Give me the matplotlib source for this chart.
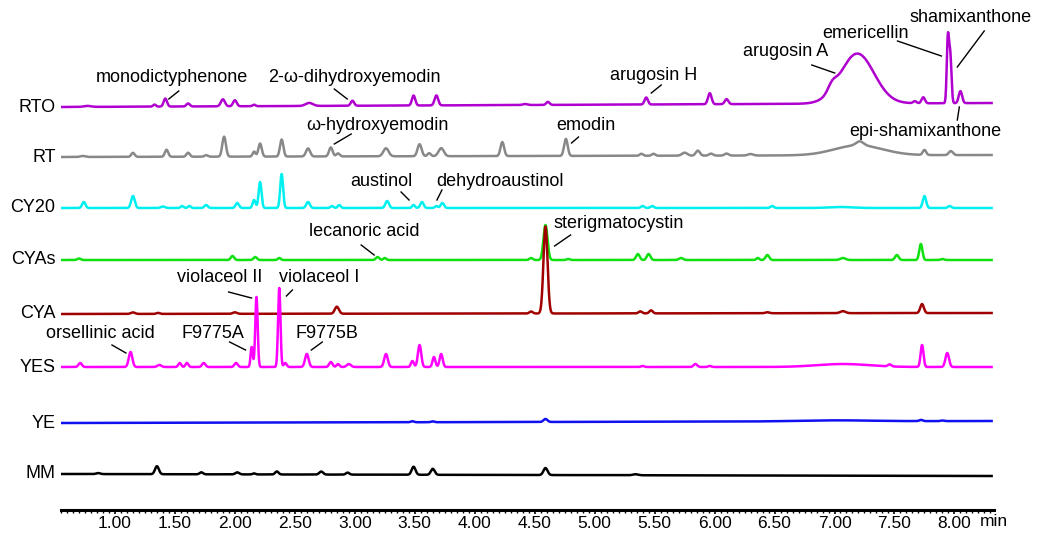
import numpy as np
import matplotlib.pyplot as plt

plt.rcParams['font.family'] = ['Liberation Sans', 'DejaVu Sans']

# ---------------- data: peaks (retention time, height, width) ----------------
trace_names = ["RTO", "RT", "CY20", "CYAs", "CYA", "YES", "YE", "MM"]
trace_colors = ["#B000D0", "#888888", "#00F0F0", "#10E010", "#A00000", "#FF00FF", "#1010F0", "#000000"]
base_left = [403, 353, 302, 250, 196, 143, 87, 36]
base_right = [407, 355, 302, 250, 197, 143, 89, 34]

rto_t = [0.77, 1.33, 1.42, 1.61, 1.90, 2.00, 2.16, 2.62, 2.98, 3.49, 3.68, 4.42, 4.61, 5.43, 5.96, 6.10,
         6.98, 7.19, 7.67, 7.74, 7.945, 7.965, 8.05]
rto_h = [1, 2, 8, 3, 7, 6, 1.5, 3, 5, 10, 10, 1, 3, 7, 11, 5, 7, 50, 2, 6, 63, 48, 12]
rto_w = [0.03, 0.012, 0.014, 0.014, 0.017, 0.015, 0.012, 0.03, 0.014, 0.014, 0.015, 0.02, 0.014, 0.014, 0.015, 0.015,
         0.035, 0.14, 0.014, 0.014, 0.009, 0.01, 0.014]

rt_t = [0.73, 1.15, 1.43, 1.61, 1.76, 1.91, 2.16, 2.21, 2.39, 2.61, 2.80, 2.86, 3.26, 3.54, 3.62, 3.72, 4.23,
        4.76, 5.39, 5.49, 5.75, 5.86, 5.97, 6.10, 6.30, 7.20, 7.21, 7.75, 7.97]
rt_h = [1, 4, 7, 4, 1.5, 20, 5, 13, 17, 8, 9, 3, 8, 12, 3, 8, 14,
        17, 2, 2, 3, 5, 2, 2, 1.5, 10, 4, 5, 4]
rt_w = [0.02, 0.014, 0.014, 0.014, 0.014, 0.015, 0.012, 0.014, 0.014, 0.017, 0.015, 0.014, 0.022, 0.017, 0.014, 0.022, 0.015,
        0.015, 0.014, 0.014, 0.022, 0.017, 0.017, 0.017, 0.022, 0.2, 0.03, 0.014, 0.017]

cy20_t = [0.74, 1.15, 1.40, 1.56, 1.62, 1.76, 2.02, 2.16, 2.21, 2.39, 2.61, 2.81, 2.87, 3.27, 3.49, 3.56, 3.68,
          3.73, 5.40, 5.48, 6.48, 7.05, 7.75, 7.96]
cy20_h = [6, 12, 1.5, 2, 2, 3, 5, 8, 26, 34, 6, 2, 3, 7, 3, 6, 2, 5, 2, 2, 2, 1, 12, 2]
cy20_w = [0.014, 0.015, 0.017, 0.012, 0.012, 0.014, 0.014, 0.012, 0.012, 0.012, 0.015, 0.012, 0.012, 0.015, 0.012, 0.014, 0.012,
          0.014, 0.014, 0.014, 0.014, 0.1, 0.014, 0.014]

cyas_t = [0.70, 1.98, 2.17, 2.37, 3.19, 3.25, 4.47, 4.59, 4.78, 5.36, 5.45, 5.72, 6.36, 6.44, 7.07, 7.52, 7.72, 7.90]
cyas_h = [1.5, 4, 3, 2, 3, 2, 2, 35, 1, 6, 6, 2, 2, 5, 2, 5, 16, 1]
cyas_w = [0.014, 0.014, 0.014, 0.012, 0.014, 0.012, 0.014, 0.017, 0.014, 0.015, 0.015, 0.017, 0.012, 0.015, 0.022, 0.015, 0.013, 0.014]

cya_t = [1.15, 1.36, 2.00, 2.85, 4.47, 4.59, 5.38, 5.47, 6.44, 7.07, 7.73]
cya_h = [1.5, 1, 1.5, 7, 2, 87, 2, 3, 1, 2, 9]
cya_w = [0.017, 0.014, 0.017, 0.017, 0.014, 0.017, 0.014, 0.014, 0.017, 0.022, 0.015]

yes_t = [0.71, 1.13, 1.37, 1.54, 1.60, 1.74, 2.01, 2.14, 2.18, 2.37, 2.42, 2.60, 2.80, 2.86, 2.95, 3.26, 3.48,
         3.54, 3.66, 3.72, 5.40, 5.84, 5.96, 7.07, 7.46, 7.73, 7.94]
yes_h = [4, 15, 2, 4, 4, 4, 4, 20, 70, 79, 4, 13, 5, 3, 3, 13, 6, 22, 10, 13, 1, 3, 1, 3, 2, 22, 14]
yes_w = [0.014, 0.015, 0.017, 0.012, 0.012, 0.014, 0.014, 0.009, 0.01, 0.01, 0.012, 0.015, 0.014, 0.012, 0.017, 0.015, 0.012,
         0.014, 0.012, 0.013, 0.014, 0.015, 0.014, 0.22, 0.014, 0.012, 0.015]

ye_t = [3.48, 3.65, 4.59, 7.00, 7.72, 7.90]
ye_h = [1, 0.8, 3, 1, 1.2, 0.6]
ye_w = [0.014, 0.014, 0.016, 0.3, 0.014, 0.014]

mm_t = [0.86, 1.35, 1.72, 2.02, 2.16, 2.35, 2.72, 2.94, 3.49, 3.65, 4.59, 5.34]
mm_h = [1, 8, 2, 2, 1, 3, 3, 2, 8, 6, 7, 1]
mm_w = [0.017, 0.016, 0.014, 0.016, 0.012, 0.014, 0.016, 0.014, 0.016, 0.016, 0.017, 0.022]

peak_t = [rto_t, rt_t, cy20_t, cyas_t, cya_t, yes_t, ye_t, mm_t]
peak_h = [rto_h, rt_h, cy20_h, cyas_h, cya_h, yes_h, ye_h, mm_h]
peak_w = [rto_w, rt_w, cy20_w, cyas_w, cya_w, yes_w, ye_w, mm_w]

# compound labels: text, text position (px), leader line (px)
labels = ["monodictyphenone", "2-ω-dihydroxyemodin", "ω-hydroxyemodin", "arugosin H", "arugosin A",
          "emericellin", "shamixanthone", "epi-shamixanthone", "emodin", "austinol", "dehydroaustinol",
          "lecanoric acid", "sterigmatocystin", "violaceol II", "violaceol I", "orsellinic acid",
          "F9775A", "F9775B"]
label_xy = [(172, 77), (355, 77), (378, 125), (655, 75), (788, 52), (868, 33), (973, 18), (928, 132),
            (587, 126), (382, 182), (501, 181), (365, 232), (620, 223), (220, 277), (320, 277),
            (100, 333), (213, 333), (328, 333)]
leader = [((179, 91), (169, 99)), ((335, 89), (348, 99)), ((352, 134), (335, 144)),
          ((663, 85), (653, 93)), ((814, 65), (837, 73)), ((900, 41), (944, 56)),
          ((987, 31), (960, 67)), ((960, 120), (962, 107)), ((580, 137), (573, 143)),
          ((402, 192), (410, 200)), ((443, 190), (438, 200)), ((362, 245), (375, 255)),
          ((572, 235), (556, 246)), ((229, 292), (252, 298)), ((293, 290), (287, 296)),
          ((112, 345), (126, 353)), ((230, 342), (246, 350)), ((323, 342), (312, 350))]


def px(x, y):
    # picture pixel -> (min, signal)
    return 1 + (x - 115) / 120.3, 510 - y


fig = plt.figure(figsize=(10.37, 5.33), dpi=100)
ax = fig.add_axes([61 / 1037, 23 / 533, 933 / 1037, 510 / 533])

t = np.linspace(0.56, 8.31, 6000)
for i in range(len(trace_names)):
    y = base_left[i] + (base_right[i] - base_left[i]) * (t - t[0]) / (t[-1] - t[0])
    for c, h, w in zip(peak_t[i], peak_h[i], peak_w[i]):
        y = y + h * np.exp(-0.5 * ((t - c) / w) ** 2)
    ax.plot(t, y, color=trace_colors[i], lw=1.8, zorder=3 + i)
    ax.text(0.505, base_left[i], trace_names[i], ha='right', va='center', fontsize=13, clip_on=False)

for txt, (x, y), (p1, p2) in zip(labels, label_xy, leader):
    ax.text(*px(x, y), txt, ha='center', va='center', fontsize=13, zorder=20)
    a, b = px(*p1), px(*p2)
    ax.plot([a[0], b[0]], [a[1], b[1]], color='black', lw=1.0, zorder=20)

ax.set_xlim(0.55, 8.33)
ax.set_ylim(0, 510)
for s in ['top', 'right', 'left']:
    ax.spines[s].set_visible(False)
ax.spines['bottom'].set_linewidth(2.2)
ax.set_yticks([])
ax.set_xticks(np.arange(1.0, 8.01, 0.5))
ax.set_xticklabels(["%.2f" % v for v in np.arange(1.0, 8.01, 0.5)], fontsize=12.5)
ax.set_xticks(np.arange(0.55, 8.33, 0.05), minor=True)
ax.tick_params(axis='x', which='major', length=3, width=1.2, pad=1)
ax.tick_params(axis='x', which='minor', length=2.5, width=1.0)
ax.text(*px(983, 521), "min", ha='left', va='center', fontsize=12.5)

fig.savefig("out.png", dpi=100)
